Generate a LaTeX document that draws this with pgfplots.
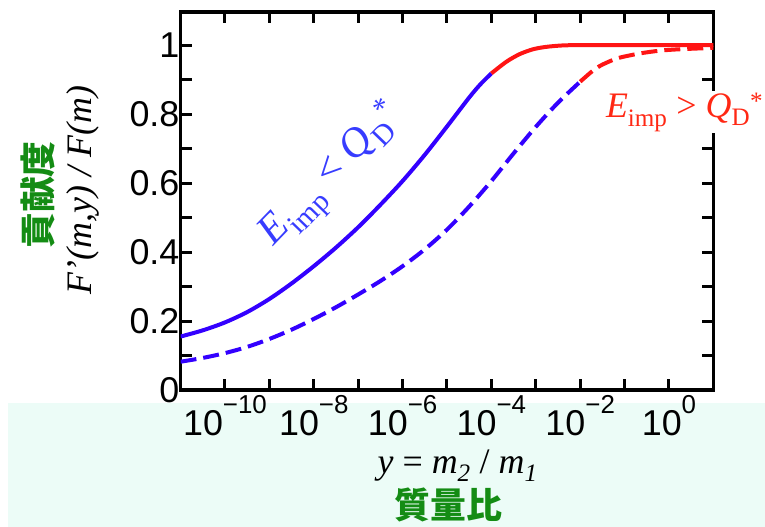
\documentclass[border=0pt]{standalone}
\usepackage{pgfplots}
\pgfplotsset{compat=1.18}
\usepackage{fontspec}
\setmainfont{Liberation Serif}
\newfontfamily\sansf{Liberation Sans}
\newfontfamily\cjk{Noto Sans CJK JP}
\definecolor{cblue}{RGB}{51,0,255}
\definecolor{cred}{RGB}{255,20,20}
\definecolor{lblue}{RGB}{55,60,255}
\definecolor{lred}{RGB}{255,40,20}
\definecolor{cgreen}{RGB}{20,140,20}
\definecolor{mint}{RGB}{236,252,247}
\newcommand{\ex}[1]{\raisebox{0.62em}{\fontsize{26}{26}\selectfont #1}}
\begin{document}
\begin{tikzpicture}
\useasboundingbox (-180.6bp,-137bp) rectangle (584.4bp,390bp);
\fill[mint] (-172.6bp,-137bp) rectangle (584.4bp,-13bp);
\begin{axis}[
 at={(0,0)}, anchor=south west,
 scale only axis, width=532.8bp, height=378bp,
 xmode=log, xmin=1e-11, xmax=1e1, ymin=0, ymax=1.096,
 xtick={1e-10,1e-9,1e-8,1e-7,1e-6,1e-5,1e-4,1e-3,1e-2,1e-1,1e0},
 xticklabels={{10\ex{−10}},{},{10\ex{−8}},{},{10\ex{−6}},{},{10\ex{−4}},{},{10\ex{−2}},{},{10\ex{0}}},
 xminorticks=false,
 ytick={0,0.2,0.4,0.6,0.8,1},
 yticklabels={0,0.2,0.4,0.6,0.8,1},
 minor ytick={0.1,0.3,0.5,0.7,0.9},
 tick style={black, line width=3bp},
 major tick length=11bp, minor tick length=11bp,
 axis line style={line width=3.5bp},
 ticklabel style={font=\sansf\fontsize{36}{36}\selectfont},
 xticklabel style={yshift=-2bp},
 yticklabel style={inner xsep=1bp},
]
\addplot[cblue, line width=4bp, smooth] coordinates {
(1e-11,0.155) (3.162e-11,0.173) (1e-10,0.196) (3.162e-10,0.226) (1e-9,0.264)
(3.162e-9,0.309) (1e-8,0.359) (3.162e-8,0.413) (1e-7,0.472) (3.162e-7,0.537)
(1e-6,0.606) (3.162e-6,0.682) (1e-5,0.764) (3.162e-5,0.848) (5.623e-5,0.886) (1e-4,0.918)};
\addplot[cred, line width=4bp, smooth] coordinates {
(1e-4,0.918) (2.188e-4,0.952) (4.365e-4,0.974) (8.71e-4,0.988) (1.738e-3,0.995)
(3.981e-3,0.999) (1e-2,1.000) (0.1,1.000) (1,1.000) (10,1.000)};
\addplot[cblue, line width=4bp, smooth, dash pattern=on 16bp off 7bp] coordinates {
(1e-11,0.082) (3.162e-11,0.093) (1e-10,0.107) (3.162e-10,0.125) (1e-9,0.148)
(3.162e-9,0.175) (1e-8,0.206) (3.162e-8,0.240) (1e-7,0.277) (3.162e-7,0.316)
(1e-6,0.359) (3.162e-6,0.408) (1e-5,0.465) (3.162e-5,0.532) (1e-4,0.606)
(3.162e-4,0.686) (1e-3,0.763) (3.162e-3,0.833) (1e-2,0.894)};
\addplot[cred, line width=4bp, smooth, dash pattern=on 16bp off 7bp] coordinates {
(1e-2,0.894) (1.778e-2,0.922) (2.818e-2,0.940) (5.012e-2,0.955) (7.943e-2,0.964) (0.2239,0.976) (0.631,0.984) (1.778,0.988) (10,0.992)};
\end{axis}
\node[rotate=90, text=cgreen, font=\cjk\bfseries\fontsize{36}{36}\selectfont] at (-142.6bp,195bp) {貢献度};
\node[rotate=90, font=\fontsize{36}{36}\selectfont\itshape] at (-97.6bp,200bp) {F’(m,y) / F(m)};
\node[font=\fontsize{36}{36}\selectfont] at (277bp,-76bp) {\textit{y} = \textit{m}\textsubscript{\textit{2}} / \textit{m}\textsubscript{\textit{1}}};
\node[text=cgreen, font=\cjk\bfseries\fontsize{36}{36}\selectfont] at (268bp,-115bp) {質量比};
\node[rotate=46, text=lblue, font=\fontsize{42}{42}\selectfont] at (153bp,213bp) {\textit{E}\textsubscript{imp} < \textit{Q}\textsubscript{D}\textsuperscript{*}};
\node[fill=white, text=lred, inner sep=2bp, font=\fontsize{36}{36}\selectfont] at (504bp,278bp) {\textit{E}\textsubscript{imp} > \textit{Q}\textsubscript{D}\textsuperscript{*}};
\end{tikzpicture}
\end{document}
